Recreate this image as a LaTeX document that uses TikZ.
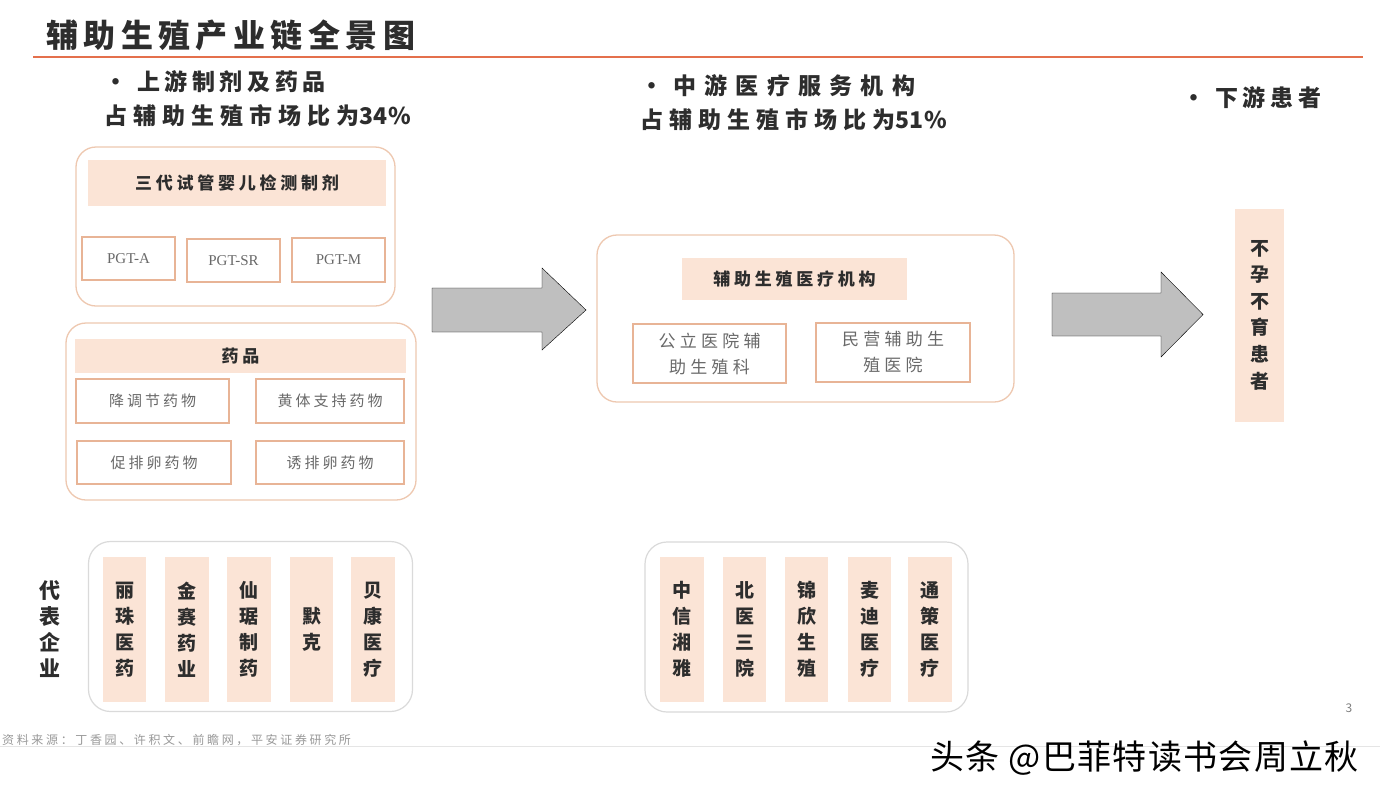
\documentclass[tikz,border=0pt]{standalone}
\usepackage{fontspec}
\setmainfont{Noto Sans CJK SC}
\newfontfamily\pgtfont{Liberation Serif}
\usetikzlibrary{positioning}
\definecolor{peach}{RGB}{251,228,214}
\definecolor{grpline}{RGB}{238,200,176}
\definecolor{subline}{RGB}{232,180,150}
\definecolor{grayline}{RGB}{218,218,218}
\definecolor{arrowgray}{RGB}{191,191,191}
\definecolor{titleline}{RGB}{228,112,76}
\definecolor{txt}{RGB}{45,45,45}
\definecolor{subtxt}{RGB}{105,105,105}
\newcommand{\ls}[1]{\addfontfeature{LetterSpace=#1}}
\tikzset{
  grp/.style={draw=grpline, line width=1.3pt, rounded corners=20pt, inner sep=0},
  grpgray/.style={draw=grayline, line width=1.2pt, rounded corners=22pt, inner sep=0},
  hdr/.style={fill=peach, inner sep=0, text=txt, font=\fontsize{17}{20}\selectfont\bfseries\ls{22}},
  subbox/.style={draw=subline, line width=1.1pt, fill=white, inner sep=0, text=subtxt, align=center},
  strip/.style={fill=peach, inner sep=0, text=txt, align=center, font=\fontsize{19}{26}\selectfont\bfseries},
  bullet/.style={inner sep=0, anchor=west, text=txt, align=left, font=\fontsize{23}{34}\selectfont\bfseries},
  blockarrow/.style={fill=arrowgray},
}
\begin{document}
\begin{tikzpicture}[x=1pt,y=-1pt]
\useasboundingbox[fill=white] (0,0) rectangle (1380,798);

% title
\node[inner sep=0, anchor=west, text=txt, font=\fontsize{32}{36}\selectfont\bfseries\ls{17}] (title) at (46,35) {辅助生殖产业链全景图};
\coordinate (tl) at (33,57);
\coordinate (tr) at (1363,57);
\draw[titleline, line width=2pt] (tl) -- (tr);

% bullets
\node[bullet] (up) at (104,99) {•\hspace{10pt}{\ls{20}上游制剂及药品}\\{\ls{26}占辅助生殖市场比为}{\ls{3}34\%}};
\node[bullet] (mid) at (640,103) {•\hspace{10pt}{\ls{36}中游医疗服务机构}\\{\ls{26}占辅助生殖市场比为}{\ls{3}51\%}};
\node[bullet] (down) at (1182,98) {•\hspace{10pt}{\ls{20}下游患者}};

% upstream group 1
\node[grp, minimum width=319, minimum height=159] (g1) at (235.5,226.5) {};
\node[hdr, minimum width=298, minimum height=46] (h1) at (237,183) {三代试管婴儿检测制剂};
\node[subbox, minimum width=93, minimum height=43, font=\pgtfont\fontsize{15}{18}\selectfont] (pa) at (128.5,258.5) {PGT-A};
\node[subbox, minimum width=93, minimum height=43, font=\pgtfont\fontsize{15}{18}\selectfont] (psr) at (233.5,260.5) {PGT-SR};
\node[subbox, minimum width=93, minimum height=44, font=\pgtfont\fontsize{15}{18}\selectfont] (pm) at (338.5,260) {PGT-M};

% upstream group 2
\node[grp, minimum width=350, minimum height=177] (g2) at (241,411.5) {};
\node[hdr, minimum width=331, minimum height=34] (h2) at (240.5,356) {药品};
\node[subbox, minimum width=153, minimum height=44, font=\fontsize{15}{18}\selectfont\ls{20}] (d1) at (152.5,401) {降调节药物};
\node[subbox, minimum width=148, minimum height=44, font=\fontsize{15}{18}\selectfont\ls{20}] (d2) at (330,401) {黄体支持药物};
\node[subbox, minimum width=154, minimum height=43, font=\fontsize{15}{18}\selectfont\ls{20}] (d3) at (154,462.5) {促排卵药物};
\node[subbox, minimum width=148, minimum height=43, font=\fontsize{15}{18}\selectfont\ls{20}] (d4) at (330,462.5) {诱排卵药物};

% arrow 1
\coordinate (a1) at (432,288);
\draw[blockarrow] (a1) -- (542,288) -- (542,268) -- (586,310) -- (542,350) -- (542,332) -- (432,332) -- cycle;

% midstream group
\node[grp, minimum width=417, minimum height=167] (g3) at (805.5,318.5) {};
\node[hdr, minimum width=225, minimum height=42] (h3) at (794.5,279) {辅助生殖医疗机构};
\node[subbox, minimum width=153, minimum height=59, font=\fontsize{17}{26}\selectfont\ls{25}] (m1) at (709.5,353.5) {公立医院辅\\助生殖科};
\node[subbox, minimum width=154, minimum height=59, font=\fontsize{17}{26}\selectfont\ls{25}] (m2) at (893,352.5) {民营辅助生\\殖医院};

% arrow 2
\coordinate (a2) at (1052,293);
\draw[blockarrow] (a2) -- (1161,293) -- (1161,272) -- (1203,314.5) -- (1161,357) -- (1161,336) -- (1052,336) -- cycle;

% downstream
\node[strip, minimum width=49, minimum height=213, font=\fontsize{19}{26.6}\selectfont\bfseries] (pat) at (1259.5,315) {不\\孕\\不\\育\\患\\者};

% representative companies
\node[inner sep=0, text=txt, align=center, font=\fontsize{21}{26}\selectfont\bfseries] (rep) at (50,629) {代\\表\\企\\业};
\node[grpgray, minimum width=324, minimum height=170] (b1) at (250.5,626.5) {};
\node[strip, minimum width=43, minimum height=145] (c1) at (124.5,629.5) {丽\\珠\\医\\药};
\node[strip, minimum width=44, minimum height=145] (c2) at (187,629.5) {金\\赛\\药\\业};
\node[strip, minimum width=44, minimum height=145] (c3) at (249,629.5) {仙\\琚\\制\\药};
\node[strip, minimum width=43, minimum height=145] (c4) at (311.5,629.5) {默\\克};
\node[strip, minimum width=44, minimum height=145] (c5) at (373,629.5) {贝\\康\\医\\疗};

\node[grpgray, minimum width=323, minimum height=170] (b2) at (806.5,627) {};
\node[strip, minimum width=44, minimum height=145] (e1) at (682,629.5) {中\\信\\湘\\雅};
\node[strip, minimum width=43, minimum height=145] (e2) at (744.5,629.5) {北\\医\\三\\院};
\node[strip, minimum width=43, minimum height=145] (e3) at (806.5,629.5) {锦\\欣\\生\\殖};
\node[strip, minimum width=43, minimum height=145] (e4) at (869.5,629.5) {麦\\迪\\医\\疗};
\node[strip, minimum width=44, minimum height=145] (e5) at (930,629.5) {通\\策\\医\\疗};

% footer
\node[inner sep=0, text=gray, font=\fontsize{12}{14}\selectfont] (pg) at (1349,708) {3};
\node[inner sep=0, anchor=west, text=black!40, font=\fontsize{12}{14}\selectfont\ls{22}] (src) at (2,740) {资料来源：丁香园、许积文、前瞻网，平安证券研究所};
\coordinate (fl) at (0,746);
\coordinate (fr) at (1380,746);
\draw[black!10, line width=0.8pt] (fl) -- (fr);
\node[inner sep=0, anchor=west, text=black, font=\fontsize{34}{36}\selectfont\ls{4}] (wm) at (930,758) {头条 @巴菲特读书会周立秋};
\end{tikzpicture}
\end{document}
